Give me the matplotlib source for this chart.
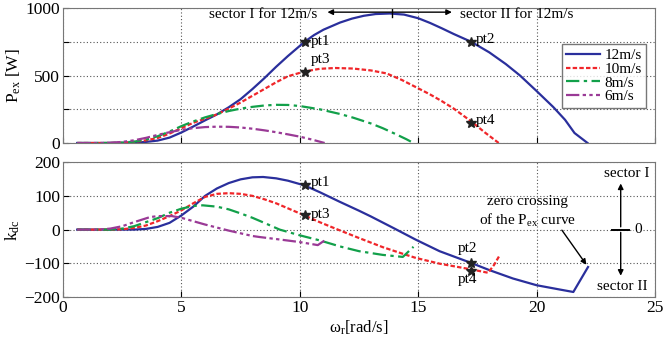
import matplotlib
matplotlib.use("Agg")
import matplotlib.pyplot as plt

plt.rcParams["font.family"] = ["Liberation Serif", "DejaVu Serif"]
plt.rcParams["mathtext.default"] = "regular"
plt.rcParams["font.size"] = 11

# P_ex [W] vs omega_r for each wind speed
w12_p = [0.6, 1.5, 2.5, 3.0, 3.5, 4.0, 4.5, 5.0, 5.5, 6.0, 6.5, 7.0, 7.5, 8.0, 8.5, 9.0, 9.5, 10.2,
         10.6, 11.0, 11.7, 12.2, 12.7, 13.2, 13.8, 14.4, 15.0, 15.5, 16.0, 16.5, 17.24, 18.0, 18.7,
         19.3, 20.0, 20.7, 21.2, 21.6, 22.15]
p12 = [0, 0, 1, 3, 8, 18, 40, 78, 122, 168, 212, 265, 325, 400, 480, 565, 645, 750,
       800, 840, 893, 922, 943, 956, 960, 952, 925, 890, 850, 808, 750, 672, 585,
       500, 385, 267, 172, 74, 0]

w10_p = [0.6, 2.0, 2.5, 3.0, 3.5, 4.0, 4.5, 5.0, 5.5, 6.0, 6.5, 7.0, 7.5, 8.0, 8.5, 9.0, 9.5, 10.2,
         10.84, 11.5, 12.25, 13.0, 13.66, 14.3, 15.06, 15.5, 16.0, 16.5, 17.24, 17.8, 18.4]
p10 = [0, 0, 2, 8, 20, 37, 70, 110, 150, 180, 212, 255, 300, 350, 400, 450, 495, 530,
       550, 556, 552, 538, 516, 468, 400, 360, 310, 255, 160, 80, 0]

w8_p = [0.6, 2.0, 2.5, 3.0, 3.5, 4.0, 4.5, 5.0, 5.5, 6.0, 6.5, 7.0, 7.5, 8.0, 8.5, 9.0, 9.5, 10.0,
        10.84, 11.7, 12.25, 13.0, 13.5, 14.0, 14.5, 14.8]
p8 = [0, 0, 3, 10, 25, 50, 85, 125, 160, 190, 215, 237, 255, 268, 278, 283, 282, 274,
      250, 215, 188, 145, 110, 70, 28, 0]

w6_p = [0.6, 1.5, 2.0, 2.5, 3.0, 3.5, 4.0, 4.5, 5.0, 5.5, 6.0, 6.5, 7.0, 7.5, 8.0, 8.5, 9.0, 9.5,
        10.0, 10.5, 11.05]
p6 = [0, 0, 2, 8, 20, 38, 60, 80, 98, 110, 118, 121, 120, 115, 106, 94, 80, 64,
      47, 26, 0]

# k_dc vs omega_r
w12_k = [0.6, 2.0, 3.0, 3.5, 4.0, 4.5, 5.0, 5.5, 6.0, 6.5, 7.0, 7.5, 8.0, 8.45, 9.0, 9.5, 10.2,
         10.84, 11.7, 12.5, 13.0, 14.0, 14.9, 15.9, 17.24, 18.0, 19.0, 20.0, 21.0, 21.55, 22.17]
k12 = [0, 0, 0, 2, 8, 20, 42, 68, 100, 122, 138, 149, 155, 156, 152, 145, 131,
       111, 82, 56, 39, 3, -30, -64, -99, -120, -145, -165, -178, -185, -111]

w10_k = [0.6, 2.0, 2.5, 3.0, 3.5, 4.0, 4.5, 5.0, 5.5, 6.0, 6.5, 7.0, 7.5, 8.0, 8.5, 9.0, 9.5, 10.2,
         10.84, 11.5, 12.5, 13.5, 14.36, 14.9, 15.9, 17.24, 17.95, 18.2, 18.44]
k10 = [0, 0, 1, 5, 12, 25, 40, 57, 78, 97, 106, 108, 106, 100, 90, 78, 63, 42,
       22, 3, -25, -52, -72, -84, -101, -118, -128, -105, -76]

w8_k = [0.6, 2.0, 2.5, 3.0, 3.5, 4.0, 4.5, 5.0, 5.5, 5.9, 6.5, 7.0, 7.5, 8.0, 8.5, 9.15, 10.0,
        10.84, 11.7, 12.5, 13.5, 14.35, 14.8]
k8 = [0, 0, 3, 10, 22, 34, 50, 62, 70, 72, 68, 60, 48, 35, 20, 0, -17,
      -32, -50, -64, -75, -81, -51]

w6_k = [0.6, 1.5, 2.0, 2.5, 3.0, 3.67, 4.0, 4.6, 5.0, 5.5, 6.0, 7.0, 8.0, 8.3, 9.0, 10.0, 10.76, 11.05]
k6 = [0, 0, 3, 10, 22, 37, 40, 40, 35, 25, 15, -3, -19, -22, -28, -37, -46, -32]

labels = ["12m/s", "10m/s", "8m/s", "6m/s"]
colors = ["#2a2f9c", "#f0262a", "#12a04a", "#9a3a96"]
styles = ["-", (0, (2, 1)), (0, (6, 2, 1.5, 2)), (0, (6, 1.5, 1.5, 1.5, 1.5, 1.5))]

fig = plt.figure(figsize=(6.63, 3.45), dpi=100)
ax1 = fig.add_axes([0.095, 0.5855, 0.893, 0.391])
ax2 = fig.add_axes([0.095, 0.139, 0.893, 0.391])

p_series = [(w12_p, p12), (w10_p, p10), (w8_p, p8), (w6_p, p6)]
k_series = [(w12_k, k12), (w10_k, k10), (w8_k, k8), (w6_k, k6)]
for (x, y), lab, c, ls in zip(p_series, labels, colors, styles):
    ax1.plot(x, y, color=c, ls=ls, lw=1.6, label=lab)
for (x, y), c, ls in zip(k_series, colors, styles):
    ax2.plot(x, y, color=c, ls=ls, lw=1.6)

for ax in (ax1, ax2):
    ax.set_xlim(0, 25)
    ax.set_xticks([0, 5, 10, 15, 20, 25])
    ax.grid(True, color="#555555", ls=(0, (1, 2)), lw=0.8)
    ax.tick_params(direction="in", length=4, pad=2, labelsize=12.5)
    for s in ax.spines.values():
        s.set_color("#777777")

ax1.set_ylim(0, 1000)
ax1.set_yticks([0, 250, 500, 750, 1000])
ax1.set_yticklabels(["0", "", "500", "", "1000"])
ax1.set_xticklabels([])
ax1.set_ylabel("P$_{ex}$ [W]", fontsize=12.5, labelpad=2)

ax2.set_ylim(-200, 200)
ax2.set_yticks([-200, -100, 0, 100, 200])
ax2.set_ylabel("k$_{dc}$", fontsize=12.5, labelpad=2)
ax2.set_xlabel("ω$_r$[rad/s]", fontsize=12, labelpad=2)

# operating points
star = dict(marker="*", color="#222222", ms=7.5, ls="none")
ax1.plot([10.2, 17.24, 10.2, 17.24], [750, 750, 530, 150], **star)
ax1.text(10.45, 750, "pt1", va="center", fontsize=11)
ax1.text(17.45, 765, "pt2", va="center", fontsize=11)
ax1.text(10.45, 620, "pt3", va="center", fontsize=11)
ax1.text(17.45, 165, "pt4", va="center", fontsize=11)

ax2.plot([10.2, 17.24, 10.2, 17.24], [131, -99, 42, -122], **star)
ax2.text(10.45, 140, "pt1", va="center", fontsize=11)
ax2.text(10.45, 45, "pt3", va="center", fontsize=11)
ax2.text(17.1, -55, "pt2", va="center", ha="center", fontsize=11)
ax2.text(17.1, -148, "pt4", va="center", ha="center", fontsize=11)

# sector annotation, top
ax1.annotate("", xy=(11.05, 970), xytext=(16.54, 970),
             arrowprops=dict(arrowstyle="<|-|>", color="black", lw=1, mutation_scale=8))
ax1.plot([13.9, 13.9], [935, 990], color="black", lw=1)
ax1.text(10.75, 950, "sector I for 12m/s", ha="right", va="center", fontsize=11)
ax1.text(16.75, 950, "sector II for 12m/s", ha="left", va="center", fontsize=11)

ax1.legend(loc="upper right", bbox_to_anchor=(0.998, 0.79), fontsize=11, frameon=True,
           fancybox=False, edgecolor="#555555", handlelength=2.2, labelspacing=0.0,
           borderpad=0.3, handletextpad=0.3)

# zero crossing annotation, bottom
ax2.annotate("", xy=(22.17, -111), xytext=(21.0, 5),
             arrowprops=dict(arrowstyle="-|>", color="black", lw=1, mutation_scale=8))
ax2.text(19.6, 82, "zero crossing", ha="center", va="center", fontsize=11)
ax2.text(19.6, 28, "of the P$_{ex}$ curve", ha="center", va="center", fontsize=11)

ax2.annotate("", xy=(23.55, 145), xytext=(23.55, 0),
             arrowprops=dict(arrowstyle="-|>", color="black", lw=1, mutation_scale=8))
ax2.annotate("", xy=(23.55, -145), xytext=(23.55, 0),
             arrowprops=dict(arrowstyle="-|>", color="black", lw=1, mutation_scale=8))
ax2.plot([23.2, 23.9], [0, 0], color="black", lw=1.4)
ax2.text(24.3, 0, "0", ha="center", va="center", fontsize=11,
         bbox=dict(fc="white", ec="none", pad=0.5))
ax2.text(23.8, 167, "sector I", ha="center", va="center", fontsize=11)
ax2.text(23.6, -170, "sector II", ha="center", va="center", fontsize=11)

fig.savefig("out.png", dpi=100)
